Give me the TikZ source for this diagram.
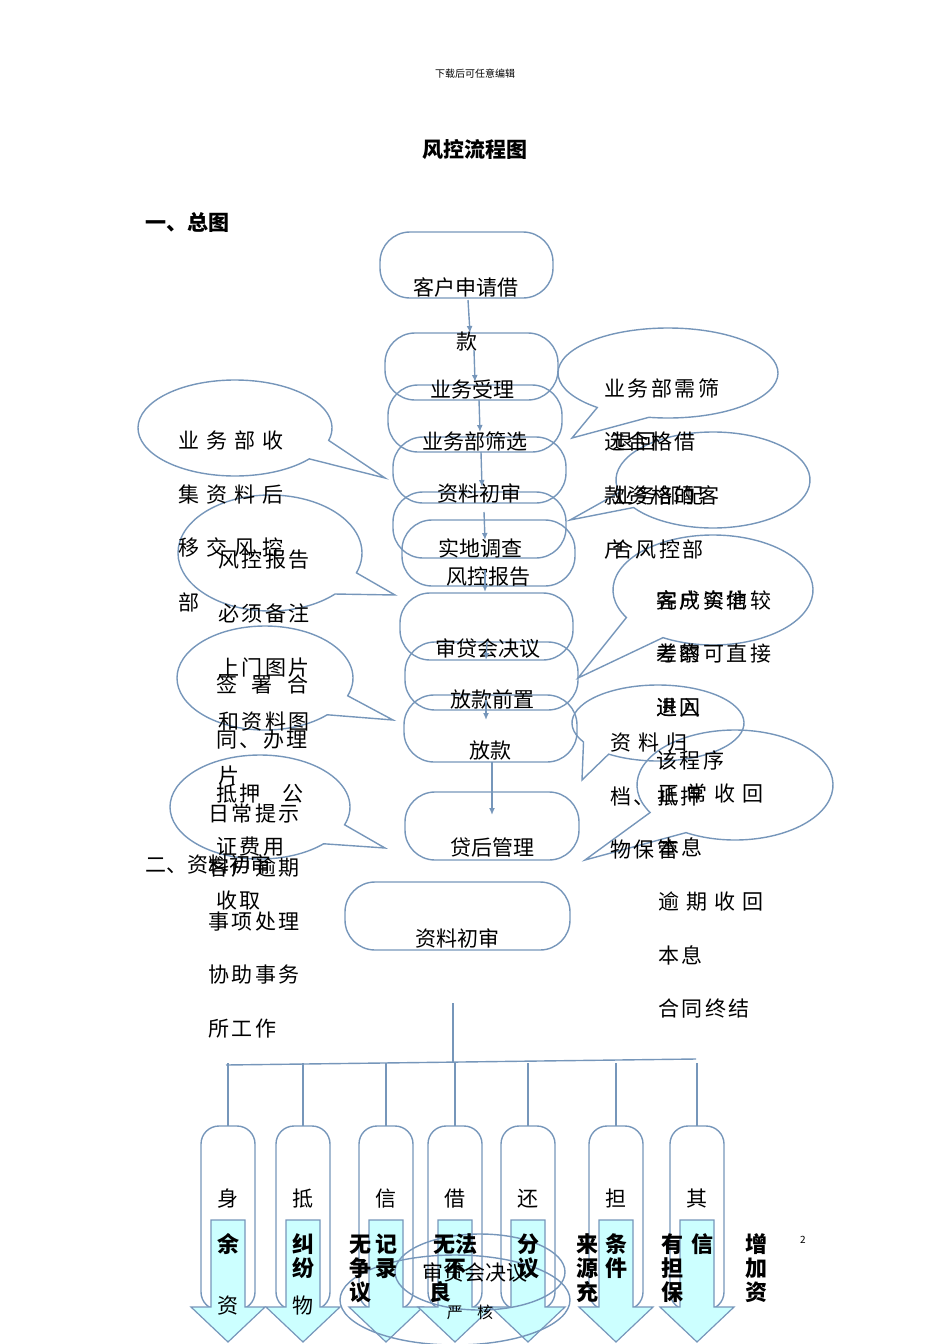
\documentclass[tikz,border=0pt]{standalone}
\usepackage{fontspec}
\setmainfont{Noto Sans CJK SC}
\newfontfamily\spaced[LetterSpace=12]{Noto Sans CJK SC}
\usetikzlibrary{arrows.meta}
\definecolor{ln}{RGB}{118,150,186}
\definecolor{cy}{RGB}{204,255,255}
\tikzset{
 flow/.style={draw=ln,line width=1.4pt,rounded corners=30pt},
 lbl/.style={font=\spaced\fontsize{21}{21}\selectfont,anchor=base west,inner sep=0},
 clbl/.style={font=\fontsize{21}{21}\selectfont,anchor=base,inner sep=0},
 blbl/.style={font=\fontsize{22}{22}\selectfont\bfseries,anchor=base,inner sep=0},
 arr/.style={draw=ln,line width=1.4pt,-{Latex[length=7pt,width=6pt]}},
 ln/.style={draw=ln,line width=1.4pt},
 barrow/.style={draw=ln,line width=1.2pt,fill=cy},
}
\newcommand{\callout}[8]{%
 \draw[ln] (#1,#2)+(#6:#3 and #4) arc[start angle=#6,end angle=#5+360,x radius=#3,y radius=#4] -- (#7,#8) -- cycle;}
\newcommand{\flowbox}[4]{\draw[flow] (#1,#2) rectangle (#3,#4);}
\newcommand{\barr}[1]{\draw[barrow] (#1-17,1220)--(#1+17,1220)--(#1+17,1307)--(#1+37,1307)--(#1,1342)--(#1-37,1307)--(#1-17,1307)--cycle;}
\begin{document}
\begin{tikzpicture}[x=1pt,y=-1pt]
\useasboundingbox (0,0) rectangle (950,1344);
\node[font=\fontsize{10}{10}\selectfont] (hdr) at (475,74) {下载后可任意编辑};
\node[font=\fontsize{21}{21}\selectfont\bfseries] (title) at (475,150) {风控流程图};
\node[anchor=base west,inner sep=0,font=\fontsize{21}{21}\selectfont\bfseries] (s1) at (145,230) {一、总图};
\flowbox{380}{232}{553}{298}
\flowbox{385}{333}{558}{400}
\flowbox{388}{385}{562}{452}
\flowbox{393}{437}{566}{503}
\flowbox{393}{492}{566}{558}
\flowbox{402}{520}{575}{586}
\flowbox{400}{593}{573}{660}
\flowbox{405}{642}{578}{710}
\flowbox{404}{695}{577}{762}
\flowbox{405}{792}{579}{860}
\flowbox{345}{882}{570}{950}
\node[clbl] (n1) at (466,295) {客户申请借};
\node[clbl] (n1b) at (467,349) {款};
\node[clbl] (n2) at (472,397) {业务受理};
\node[clbl] (n3) at (475,449) {业务部筛选};
\node[clbl] (n4) at (479,501) {资料初审};
\node[clbl] (n5) at (480,556) {实地调查};
\node[clbl] (n6) at (488,584) {风控报告};
\node[clbl] (n7) at (488,656) {审贷会决议};
\node[clbl] (n8) at (492,707) {放款前置};
\node[clbl] (n9) at (490,758) {放款};
\node[clbl] (n10) at (492,855) {贷后管理};
\node[clbl] (n11) at (457,946) {资料初审};
\coordinate (a1) at (468,300); \coordinate (b1) at (470,333);
\coordinate (a2) at (474,350); \coordinate (b2) at (475,382);
\coordinate (a3) at (479,400); \coordinate (b3) at (480,432);
\coordinate (a4) at (481,452); \coordinate (b4) at (482,487);
\coordinate (a5) at (484,512); \coordinate (b5) at (485,540);
\coordinate (a6) at (485,570); \coordinate (b6) at (485,592);
\coordinate (a7) at (487,642); \coordinate (b7) at (486,660);
\coordinate (a8) at (486,700); \coordinate (b8) at (486,720);
\coordinate (a9) at (492,762); \coordinate (b9) at (492,815);
\foreach \i in {1,...,9}{\draw[arr] (a\i) -- (b\i);}
\callout{235}{428}{97}{48}{15}{40}{385}{478}
\callout{270}{553}{92}{58}{20}{45}{395}{595}
\callout{265}{678}{88}{52}{20}{45}{393}{720}
\callout{260}{807}{90}{52}{20}{45}{385}{848}
\callout{668}{373}{110}{45}{100}{130}{572}{438}
\callout{713}{480}{97}{48}{145}{165}{570}{520}
\callout{713}{590}{100}{55}{120}{150}{578}{678}
\callout{658}{723}{86}{38}{125}{150}{582}{780}
\callout{735}{785}{98}{55}{120}{150}{585}{860}
\foreach \t/\y in {业\ 务\ 部\ 收/448,集\ 资\ 料\ 后/502,移\ 交\ 风\ 控/555,部/610}{\node[lbl] at (178,\y) {\t};}
\foreach \t/\y in {风控报告/567,必须备注/621,上门图片/675,和资料图/729,片/783}{\node[lbl] at (218,\y) {\t};}
\foreach \t/\y in {签\ \ 署\ \ 合/692,同、办理/747,抵押\ \ \ 公/801,证费用/854,收取/908}{\node[lbl] at (216,\y) {\t};}
\foreach \t/\y in {日常提示/821,客户逾期/875,事项处理/929,协助事务/982,所工作/1036}{\node[lbl] at (208,\y) {\t};}
\node[anchor=base west,inner sep=0,font=\fontsize{21}{21}\selectfont] (s2) at (145,872) {二、资料初审};
\foreach \t/\y in {业务部需筛/396,选合格借/449,款资格的客/503,户/557}{\node[lbl] at (604,\y) {\t};}
\foreach \t/\y in {退回/449,业务部配/503,合风控部/557}{\node[lbl] at (612,\y) {\t};}
\foreach \t/\y in {客户资信较/608,差的可直接/661,退回/715}{\node[lbl] at (656,\y) {\t};}
\foreach \t/\y in {完成实地/608,考察/661,进入/715,该程序/768}{\node[lbl] at (656,\y) {\t};}
\foreach \t/\y in {资\ 料\ 归/750,档、抵押/804,物保管/857}{\node[lbl] at (610,\y) {\t};}
\foreach \t/\y in {正\ 常\ 收\ 回/801,本息/855,逾\ 期\ 收\ 回/909,本息/963,合同终结/1016}{\node[lbl] at (658,\y) {\t};}
\coordinate (top) at (453,1003); \coordinate (jn) at (453,1062);
\draw[ln] (top) -- (jn);
\draw[ln] (226,1065) -- (696,1059);
\foreach \x/\t in {228/身,303/抵,386/信,455/借,528/还,616/担,697/其}{
 \draw[ln] (\x,1063) -- (\x,1126);
 \draw[ln,rounded corners=18pt] (\x-27,1126) rectangle (\x+27,1310);
 \node[clbl] at (\x,1206) {\t};
}
\foreach \x in {228,303,386,455,528,616,697}{\barr{\x}}
\draw[ln] (480,1272) ellipse (85 and 38);
\draw[ln] (455,1300) ellipse (115 and 45);
\foreach \x/\t in {228/余,303/纠,386/记,455/无法,528/分,616/条,702/信,756/增,360/无,587/来,672/有}{\node[blbl] at (\x,1252) {\t};}
\foreach \x/\t in {303/纷,386/录,455/不,528/议,616/件,756/加,360/争,587/源,672/担}{\node[blbl] at (\x,1276) {\t};}
\foreach \x/\t in {360/议,440/良,587/充,672/保,756/资}{\node[blbl] at (\x,1300) {\t};}
\node[clbl] at (475,1280) {审贷会决议};
\node[clbl] at (228,1313) {资};
\node[clbl] at (303,1313) {物};
\node[clbl,font=\fontsize{16}{16}\selectfont] at (470,1318) {严\ \ \ \ 核};
\node[font=\fontsize{10}{10}\selectfont] (pg) at (803,1240) {2};
\end{tikzpicture}
\end{document}
